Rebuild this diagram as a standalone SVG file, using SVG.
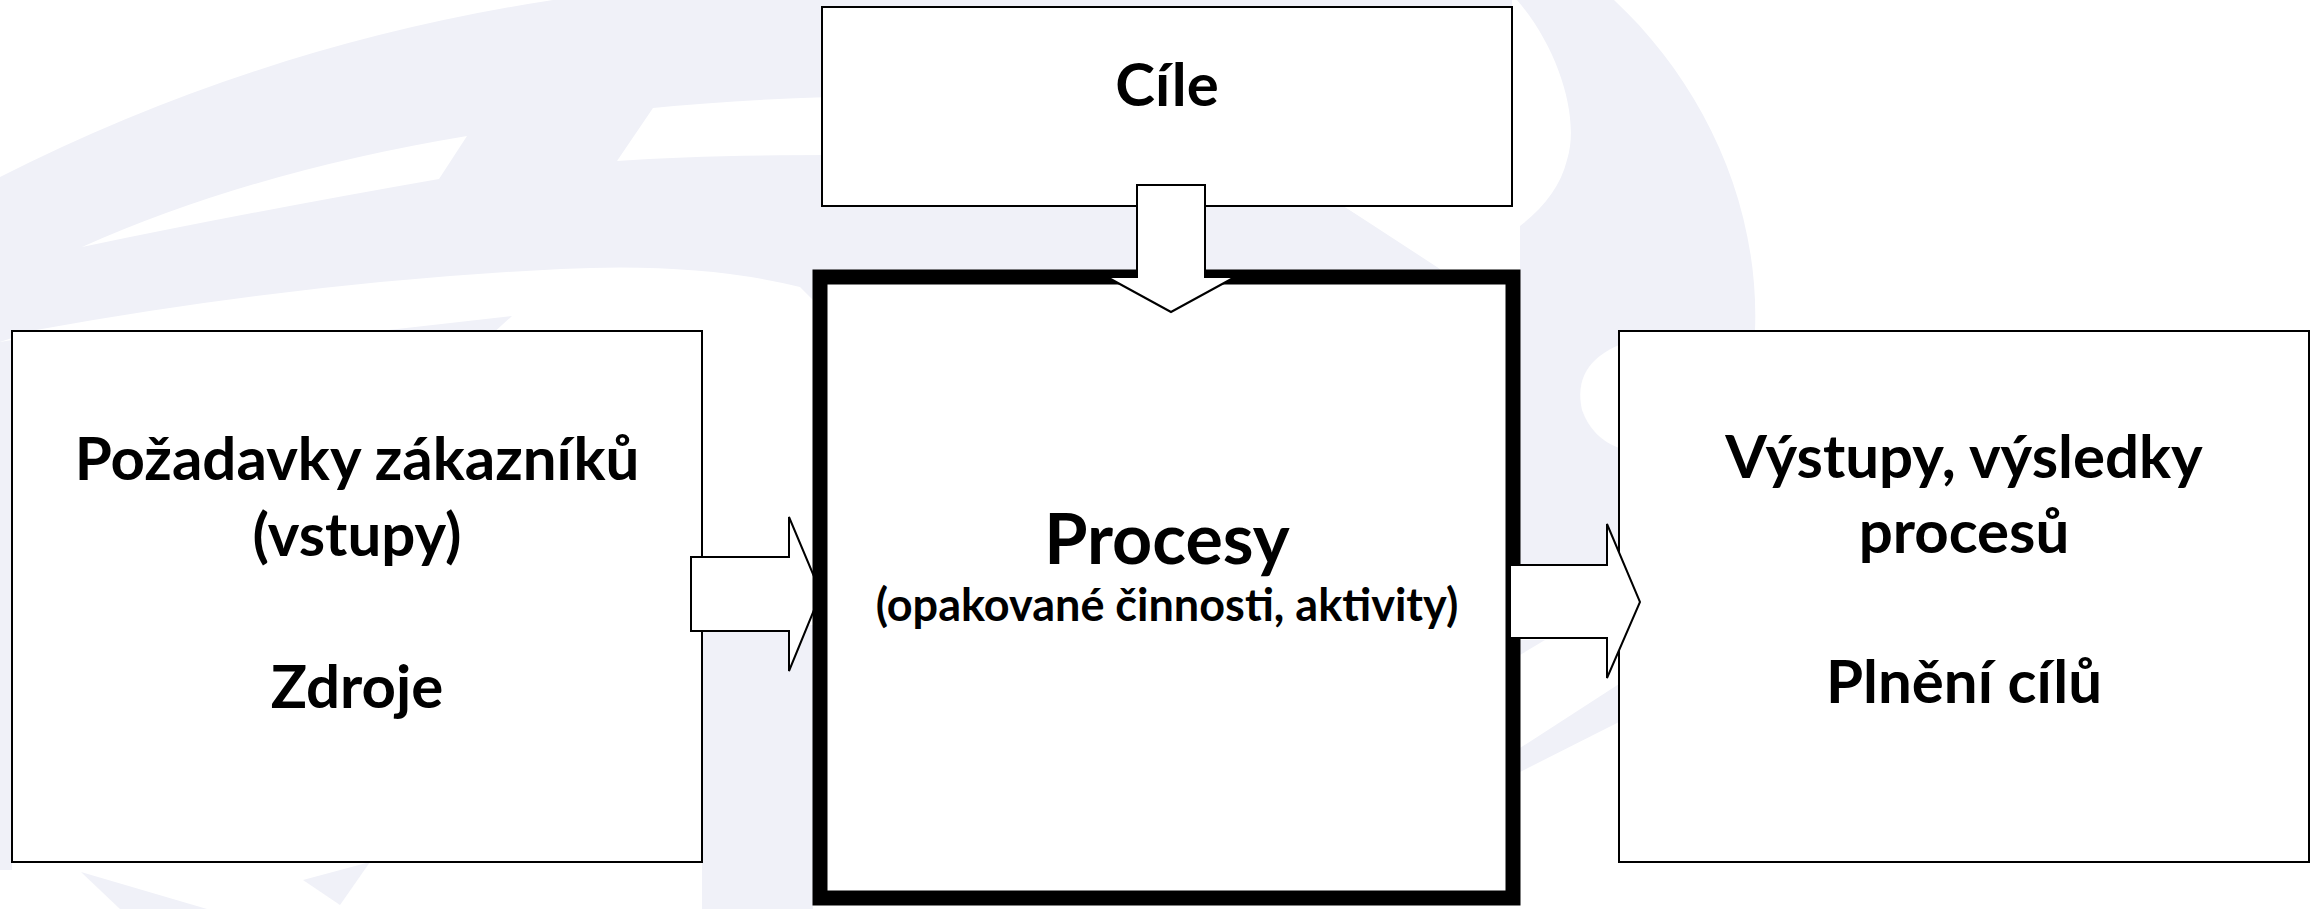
<svg xmlns="http://www.w3.org/2000/svg" width="2318" height="909" viewBox="0 0 2318 909">
<style>
.bg{fill:#F0F1F8;stroke:none}
.wh{fill:#FFFFFF;stroke:none}
.box{fill:#FFFFFF;stroke:#000;stroke-width:2}
.main{fill:#FFFFFF;stroke:#000;stroke-width:15}
.arr{fill:#FFFFFF;stroke:#000;stroke-width:2;stroke-linejoin:miter}
text{font-family:Lato,"Open Sans","Liberation Sans",sans-serif;font-weight:700;fill:#000;text-anchor:middle}
.t{font-size:60px}
.tp{font-size:70px}
.ts{font-size:45px}
</style>
<rect width="2318" height="909" fill="#FFFFFF"/>
<g id="background">
  <path class="bg" d="M0,177 Q260,45 553,0 L1512,0 L1512,207 L1345,207 L1440,269 L1440,300 L813,300 L800,287 Q700,262 561,269 Q300,282 36,330 L0,342 Z"/>
  <path class="wh" d="M82,247 Q250,172 467,136 L439,179 Q250,212 82,247 Z"/>
  <path class="wh" d="M653,108 Q730,100 830,97 L830,155 Q700,155 617,161 Z"/>
  <path class="bg" d="M300,340 L512,316 L480,345 Z"/>
  <path class="bg" d="M1512,0 L1614,0 C1700,80 1760,200 1755,331 L1755,565 L1520,565 L1520,207 L1512,207 Z"/>
  <path class="wh" d="M1512,0 L1517,0 C1560,50 1580,120 1567,160 C1555,210 1500,250 1434,263 L1345,207 L1512,207 Z"/>
  <path class="wh" d="M1619,345 Q1572,365 1582,410 Q1592,438 1619,448 Z"/>
  <path class="bg" d="M1520,640 L1545,640 L1520,655 Z"/>
  <path class="bg" d="M1619,684 L1619,722 L1520,772 L1520,748 Z"/>
  <path class="bg" d="M0,342 L12,340 L12,870 L0,870 Z"/>
  <path class="bg" d="M702,632 Q760,622 813,625 L813,909 L702,909 Z"/>
  <path class="bg" d="M81,872 L207,909 L120,909 Z"/>
  <path class="bg" d="M303,880 L370,862 L340,905 Z"/>
</g>
<g id="node-pozadavky">
  <rect class="box" x="12" y="331" width="690" height="531"/>
  <text class="t" x="357" y="480">Požadavky zákazníků</text>
  <text class="t" x="357" y="556">(vstupy)</text>
  <text class="t" x="357" y="708">Zdroje</text>
</g>
<g id="node-vystupy">
  <rect class="box" x="1619" y="331" width="690" height="531"/>
  <text class="t" x="1964" y="478">Výstupy, výsledky</text>
  <text class="t" x="1964" y="553">procesů</text>
  <text class="t" x="1964" y="703">Plnění cílů</text>
</g>
<g id="node-cile">
  <rect class="box" x="822" y="7" width="690" height="199"/>
  <text class="t" x="1167" y="106">Cíle</text>
</g>
<g id="connectors">
  <path id="arrow-in" class="arr" d="M691,557 L789,557 L789,517 L821,593 L789,671 L789,631 L691,631 Z"/>
</g>
<g id="node-procesy">
  <rect class="main" x="820" y="277" width="693" height="621"/>
  <text class="tp" x="1167" y="564">Procesy</text>
  <text class="ts" x="1167" y="621">(opakované činnosti, aktivity)</text>
</g>
<g id="connectors-top">
  <path id="arrow-down" class="arr" d="M1137,185 L1205,185 L1205,277 L1235,277 L1171,312 L1107,277 L1137,277 Z"/>
  <path id="arrow-out" class="arr" d="M1510,565 L1607,565 L1607,524 L1640,602 L1607,678 L1607,638 L1510,638 Z"/>
</g>
</svg>
